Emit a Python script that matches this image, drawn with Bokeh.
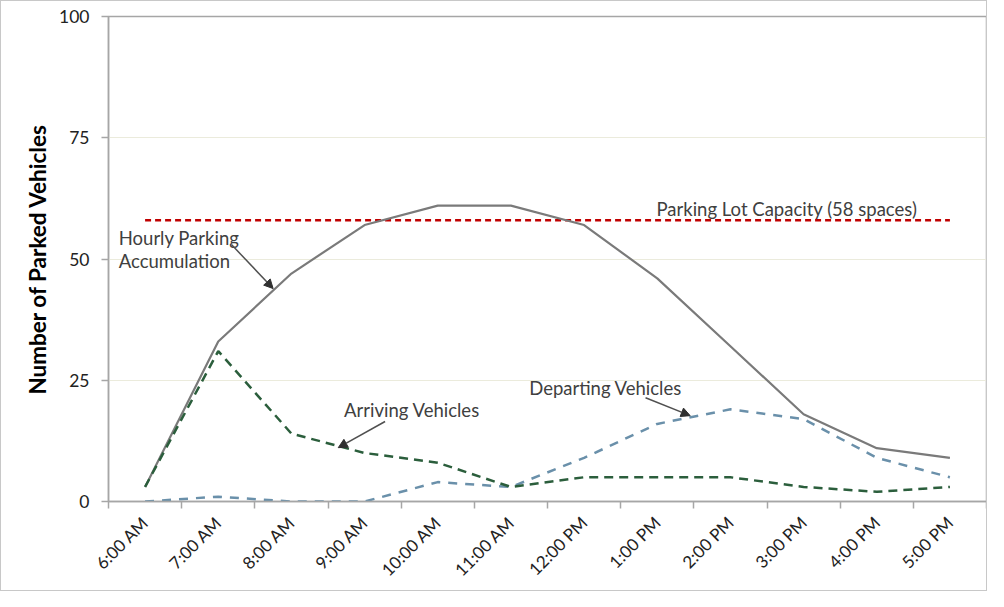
import math
from bokeh.plotting import figure
from bokeh.models import (FixedTicker, Label, Arrow, NormalHead, Range1d)
from bokeh.embed import file_html
from bokeh.resources import INLINE

# ---- data ----
hours = ["6:00 AM", "7:00 AM", "8:00 AM", "9:00 AM", "10:00 AM", "11:00 AM",
         "12:00 PM", "1:00 PM", "2:00 PM", "3:00 PM", "4:00 PM", "5:00 PM"]
accumulation = [3, 33, 47, 57, 61, 61, 57, 46, 32, 18, 11, 9]
arriving = [3, 31, 14, 10, 8, 3, 5, 5, 5, 3, 2, 3]
departing = [0, 1, 0, 0, 4, 3, 9, 16, 19, 17, 9, 5]
capacity = 58
y_ticks = [0, 25, 50, 75, 100]

FONT = "Lato"
TXT = "#404040"

xc = [i + 0.5 for i in range(len(hours))]

p = figure(frame_width=878, frame_height=485, output_backend="svg", toolbar_location=None,
           x_range=Range1d(0, len(hours)), y_range=Range1d(0, 100),
           min_border_left=107, min_border_top=15, min_border_right=0,
           min_border_bottom=0)
p.styles = {"border": "1px solid #c8c8c8"}
p.outline_line_color = "#a6a6a6"
p.outline_line_width = 1.5
p.background_fill_color = "white"
p.border_fill_color = "white"

# axes
p.xaxis.ticker = FixedTicker(ticks=xc, minor_ticks=list(range(len(hours) + 1)))
p.xaxis.major_label_overrides = {x: h for x, h in zip(xc, hours)}
p.xaxis.major_label_orientation = math.pi / 4
p.xaxis.major_tick_out = 0
p.xaxis.major_tick_in = 0
p.xaxis.minor_tick_out = 7
p.xaxis.minor_tick_in = 0
p.xaxis.minor_tick_line_color = "#a6a6a6"
p.xaxis.minor_tick_line_width = 1.5
p.xaxis.major_label_standoff = 11
p.xaxis.major_label_text_line_height = 1.0

p.yaxis.ticker = FixedTicker(ticks=y_ticks)
p.yaxis.major_tick_out = 7
p.yaxis.major_tick_in = 0
p.yaxis.minor_tick_line_color = None
p.yaxis.major_label_standoff = 12
p.yaxis.axis_label = "Number of Parked Vehicles"
p.yaxis.axis_label_text_font = FONT
p.yaxis.axis_label_text_font_style = "bold"
p.yaxis.axis_label_text_font_size = "22.5px"
p.yaxis.axis_label_text_color = "#000000"
p.yaxis.axis_label_standoff = 5

for ax in (p.xaxis, p.yaxis):
    ax.axis_line_color = "#a6a6a6"
    ax.axis_line_width = 1.5
    ax.major_tick_line_color = "#a6a6a6"
    ax.major_tick_line_width = 1.5
    ax.major_label_text_font = FONT
    ax.major_label_text_color = "#222222"
p.yaxis.major_label_text_font_size = "17.5px"
p.xaxis.major_label_text_font_size = "17px"

p.xgrid.grid_line_color = None
p.ygrid.ticker = FixedTicker(ticks=[25, 50, 75])
p.ygrid.grid_line_color = "#ebebdc"
p.ygrid.grid_line_width = 1

# series
p.line(x=[xc[0], xc[-1]], y=[capacity, capacity], line_color="#c00000",
       line_width=2.5, line_dash="6 4")
p.line(x=xc, y=accumulation, line_color="#7a7a7a", line_width=2.2)
p.line(x=xc, y=departing, line_color="#6a90aa", line_width=2.5, line_dash="9 8")
p.line(x=xc, y=arriving, line_color="#2b5e3c", line_width=2.5, line_dash="9 6")

# annotations
def lab(x, y, t):
    p.add_layout(Label(x=x, y=y, text=t, text_font=FONT, text_font_size="18.5px",
                       text_color=TXT, text_baseline="middle", text_align="left"))

lab(0.14, 54.4, "Hourly Parking")
lab(0.14, 49.6, "Accumulation")
lab(3.22, 18.8, "Arriving Vehicles")
lab(5.75, 23.5, "Departing Vehicles")
lab(7.49, 60.4, "Parking Lot Capacity (58 spaces)")

def arr(x0, y0, x1, y1):
    p.add_layout(Arrow(x_start=x0, y_start=y0, x_end=x1, y_end=y1,
                       line_color="#505050", line_width=1.5,
                       end=NormalHead(size=9, fill_color="#303030",
                                      line_color="#303030", line_width=1)))

arr(1.68, 53.0, 2.25, 43.9)
arr(3.78, 16.5, 3.14, 11.1)
arr(7.34, 21.4, 7.95, 17.7)

open("out.html", "w").write(file_html(p, INLINE))
